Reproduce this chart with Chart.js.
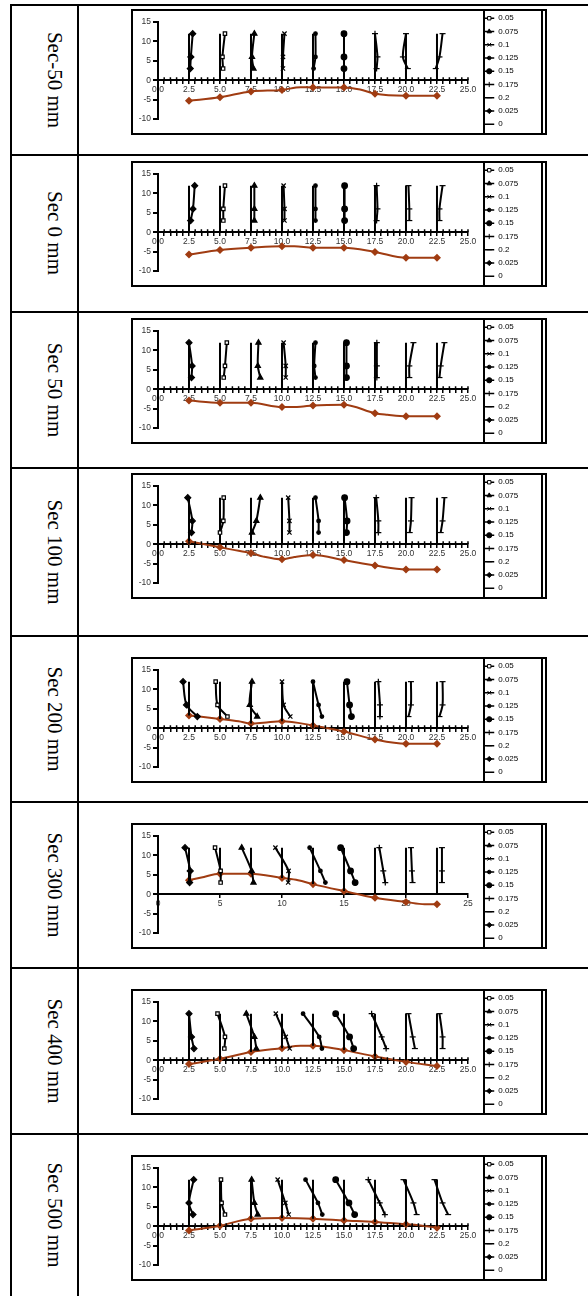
<!DOCTYPE html>
<html lang="en">
<head>
<meta charset="UTF-8">
<title>Velocity profiles by section</title>
<script src="https://cdn.jsdelivr.net/npm/chart.js"></script>
<style>
  body { margin: 0; background: #fff; }
  #page { position: relative; width: 588px; height: 1296px; overflow: hidden; }
  .hline { position: absolute; left: 10px; width: 578px; height: 2px; background: #000; }
  .vline { position: absolute; top: 5px; height: 1291px; width: 2px; background: #000; }
  .sec { position: absolute; left: 54px; font: 21px "Liberation Serif", "Times New Roman", serif; line-height: 1; white-space: nowrap; transform: translate(-50%, -50%) rotate(90deg); }
  .box { position: absolute; left: 131px; width: 416px; height: 126px; }
  .box canvas { position: absolute; left: 0; top: 0; }
  .frame { position: absolute; left: 0; top: 0; width: 412px; height: 122px; border: 2px solid #000; pointer-events: none; }
  .dbl { position: absolute; left: 410px; top: 0; width: 1.5px; height: 126px; background: #000; pointer-events: none; }
</style>
</head>
<body>
<div id="page"></div>
<script>
// sections, stations (m) and measuring depths (cm)
const sections = ['Sec-50 mm', 'Sec 0 mm', 'Sec 50 mm', 'Sec 100 mm', 'Sec 200 mm', 'Sec 300 mm', 'Sec 400 mm', 'Sec 500 mm'];
const stations = [2.5, 5, 7.5, 10, 12.5, 15, 17.5, 20, 22.5];
const depths = [12, 6, 3];
const verticalTop = 12;
const seriesNames = ['0.05', '0.075', '0.1', '0.125', '0.15', '0.175', '0.2', '0.025', '0'];
const seriesStation = [1, 2, 3, 4, 5, 6, 7, 0]; // '0' = the vertical lines
const yTicks = [-10, -5, 0, 5, 10, 15];

// profile x positions at depths 12, 6, 3 for every station
const profM50 = [[2.8, 2.65, 2.6], [5.4, 5.2, 5.25], [7.77, 7.58, 7.7], [10.2, 10.08, 10.08], [12.7, 12.7, 12.55], [15.0, 15.0, 15.0], [17.5, 17.7, 17.63], [20.0, 19.75, 20.15], [22.95, 22.7, 22.4]];
const prof0 = [[2.96, 2.82, 2.63], [5.4, 5.27, 5.27], [7.77, 7.77, 7.77], [10.13, 10.2, 10.2], [12.7, 12.7, 12.7], [15.05, 15.05, 15.05], [17.63, 17.7, 17.63], [20.2, 20.27, 20.27], [22.95, 22.7, 22.7]];
const prof50 = [[2.5, 2.75, 2.7], [5.55, 5.4, 5.3], [8.1, 8.05, 8.25], [10.13, 10.3, 10.3], [12.7, 12.6, 12.7], [15.2, 15.2, 15.2], [17.65, 17.65, 17.65], [20.6, 20.27, 20.27], [23.1, 22.8, 22.7]];
const prof100 = [[2.4, 2.77, 2.7], [5.3, 5.27, 5.0], [8.25, 7.93, 7.58], [10.5, 10.6, 10.6], [12.7, 12.95, 12.95], [15.05, 15.25, 15.2], [17.6, 17.77, 17.77], [20.45, 20.4, 20.3], [23.1, 22.95, 22.8]];
const prof200 = [[2.02, 2.3, 3.17], [4.65, 4.8, 5.6], [7.58, 7.4, 8.0], [10.0, 10.13, 10.67], [12.5, 12.95, 13.22], [15.24, 15.45, 15.6], [17.77, 17.9, 17.9], [20.4, 20.4, 20.2], [22.95, 22.95, 22.7]];
const prof300 = [[2.18, 2.6, 2.55], [4.6, 5.05, 5.05], [6.75, 7.55, 7.7], [9.47, 10.53, 10.5], [12.23, 13.1, 13.5], [14.73, 15.53, 15.9], [17.85, 18.17, 18.33], [20.4, 20.48, 20.53], [22.9, 22.9, 22.9]];
const prof400 = [[2.5, 2.7, 2.9], [4.8, 5.4, 5.35], [7.12, 7.77, 7.93], [9.5, 10.3, 10.62], [11.7, 13.0, 13.22], [14.33, 15.45, 15.78], [17.23, 18.04, 18.4], [20.2, 20.54, 20.72], [22.7, 22.95, 22.95]];
const prof500 = [[2.88, 2.5, 2.82], [5.08, 5.13, 5.4], [7.55, 7.77, 8.04], [9.65, 10.27, 10.54], [11.9, 12.9, 13.25], [14.33, 15.4, 15.86], [16.96, 17.88, 18.3], [19.8, 20.6, 20.86], [22.3, 22.95, 23.4]];

// bed level lines
const bedXM50 = [2.5, 5, 7.5, 10, 11.5, 12.5, 15, 16.3, 17.5, 20, 22.5];
const bedYM50 = [-5.3, -4.4, -2.9, -2.5, -1.8, -1.85, -1.85, -2.4, -3.5, -4.0, -4.0];
const bedX0 = [2.5, 5, 7.5, 10, 11, 12.5, 15, 17.5, 20, 22.5];
const bedY0 = [-5.75, -4.6, -4.0, -3.6, -3.6, -4.0, -4.0, -5.1, -6.6, -6.6];
const bedX50 = [2.5, 5, 7.5, 10, 11.5, 12.5, 15, 17.5, 18.5, 20, 22.5];
const bedY50 = [-2.9, -3.5, -3.5, -4.6, -4.5, -4.2, -4.0, -6.2, -6.6, -7.0, -7.0];
const bedX100 = [2.5, 5, 6, 7.5, 8.5, 10, 11, 12.5, 15, 16.5, 17.5, 20, 22.5];
const bedY100 = [0.77, -0.8, -1.4, -2.3, -3.2, -3.9, -3.3, -2.8, -4.1, -5.0, -5.5, -6.5, -6.5];
const bedX200 = [2.5, 5, 6.5, 7.5, 8.5, 10, 12.5, 15, 17.5, 20, 22.5];
const bedY200 = [3.3, 2.4, 1.8, 1.2, 1.4, 1.8, 0.7, -0.86, -2.9, -4.0, -4.0];
const bedX300 = [2.5, 3.5, 5, 7.5, 10, 11.3, 12.5, 15, 17.5, 20, 21.5, 22.5];
const bedY300 = [3.6, 4.3, 5.3, 5.3, 4.2, 3.6, 2.6, 0.8, -0.9, -2.0, -2.6, -2.6];
const bedX400 = [2.5, 5, 7.5, 10, 11.5, 12.5, 13.5, 15, 17.5, 20, 22.5];
const bedY400 = [-1.0, 0.35, 2.1, 3.1, 3.7, 3.7, 3.4, 2.6, 0.95, -0.43, -1.5];
const bedX500 = [2.5, 5, 7.5, 10, 12.5, 15, 17.5, 20, 21, 22.5];
const bedY500 = [-1.1, 0.1, 1.95, 2.1, 1.95, 1.5, 1.1, 0.5, 0.25, -0.4];

const rowData = [
  [profM50, bedXM50, bedYM50], [prof0, bedX0, bedY0], [prof50, bedX50, bedY50], [prof100, bedX100, bedY100],
  [prof200, bedX200, bedY200], [prof300, bedX300, bedY300], [prof400, bedX400, bedY400], [prof500, bedX500, bedY500]
];

// page layout
const frameTops = [9, 161, 318, 473, 657, 823, 989, 1155];
const labelMids = [80, 233, 390, 552, 719, 885, 1051, 1215];
const dividers = [5, 155, 312, 468, 636, 802, 968, 1134];
const coarseRow = 5;

// marker styles per legend series
const markStyle = ['rect', 'triangle', 'crossRot', 'circle', 'circle', 'cross', 'line', 'rectRot'];
const markSize = [2.4, 3, 3, 1.8, 2.8, 3, 3, 3];
const markFill = ['#fff', '#000', '#000', '#000', '#000', '#000', '#000', '#000'];
const bedColor = '#a03c12';

Chart.defaults.font.family = '"Liberation Sans", Arial, sans-serif';
Chart.defaults.font.size = 8.5;
Chart.defaults.color = '#333';

const rowDeco = {
  id: 'rowDeco',
  afterDraw(chart, args, opts) {
    const ctx = chart.ctx, lg = chart.legend, xs = chart.scales.x, ys = chart.scales.y;
    ctx.save();
    if (opts.cross) {
      const y0 = ys.getPixelForValue(0);
      ctx.strokeStyle = '#000';
      ctx.lineWidth = 1.5;
      ctx.beginPath();
      xs.ticks.forEach((t, i) => {
        const px = xs.getPixelForTick(i);
        ctx.moveTo(px, y0 - 3);
        ctx.lineTo(px, y0);
      });
      ctx.stroke();
    }
    const pad = lg.options.labels.padding;
    const bw = lg.options.labels.boxWidth;
    ctx.fillStyle = '#000';
    ctx.fillRect(Math.round(lg.left + pad) - 1, 0, 2, chart.height);
    lg.legendItems.forEach((it, i) => {
      const ds = chart.data.datasets[it.datasetIndex];
      const hb = lg.legendHitBoxes[i];
      if (!(ds.pointRadius > 0) || !Chart.helpers || !Chart.helpers.drawPoint) return;
      ctx.fillStyle = ds.pointBackgroundColor;
      ctx.strokeStyle = '#000';
      ctx.lineWidth = 1;
      Chart.helpers.drawPoint(ctx, {pointStyle: ds.pointStyle, radius: Math.min(ds.pointRadius, 2.6), rotation: 0, borderWidth: 1},
        hb.left + bw / 2, hb.top + hb.height / 2);
    });
    ctx.restore();
  }
};

function profileSet(label, xs, k) {
  return {
    label: label,
    data: xs.map((x, j) => ({x: x, y: depths[j]})),
    showLine: true, tension: 0.3,
    borderColor: '#000', backgroundColor: '#000', borderWidth: 2,
    pointStyle: markStyle[k], pointRadius: markSize[k],
    pointBackgroundColor: markFill[k], pointBorderColor: '#000', pointBorderWidth: 1.2
  };
}

function verticalSet(bx, by) {
  const pts = [];
  stations.forEach(s => {
    const bottom = Math.max(0, by[bx.indexOf(s)]);
    pts.push({x: s, y: verticalTop}, {x: s, y: bottom}, {x: s, y: null});
  });
  return {label: '0', data: pts, showLine: true, spanGaps: false, borderColor: '#000', backgroundColor: '#000', borderWidth: 2, pointRadius: 0};
}

const page = document.getElementById('page');
dividers.forEach(y => {
  const d = document.createElement('div');
  d.className = 'hline';
  d.style.top = (y - 1) + 'px';
  page.appendChild(d);
});
[10, 77].forEach(x => {
  const d = document.createElement('div');
  d.className = 'vline';
  d.style.left = x + 'px';
  page.appendChild(d);
});

sections.forEach((name, r) => {
  const lab = document.createElement('div');
  lab.className = 'sec';
  lab.style.top = labelMids[r] + 'px';
  lab.textContent = name;
  page.appendChild(lab);

  const box = document.createElement('div');
  box.className = 'box';
  box.style.top = frameTops[r] + 'px';
  const cv = document.createElement('canvas');
  cv.width = 416;
  cv.height = 126;
  box.appendChild(cv);
  const fr = document.createElement('div');
  fr.className = 'frame';
  box.appendChild(fr);
  const dbl = document.createElement('div');
  dbl.className = 'dbl';
  box.appendChild(dbl);
  page.appendChild(box);

  const [prof, bx, by] = rowData[r];
  const coarse = r === coarseRow;
  const datasets = [];
  seriesNames.forEach((s, k) => {
    if (s === '0') datasets.push(verticalSet(bx, by));
    else datasets.push(profileSet(s, prof[seriesStation[k]], k));
  });
  datasets.push(profileSet('0.225', prof[8], 6));
  datasets.push({
    label: 'bed', data: bx.map((x, i) => ({x: x, y: by[i]})),
    showLine: true, cubicInterpolationMode: 'monotone', borderColor: bedColor, backgroundColor: bedColor, borderWidth: 2,
    pointStyle: 'rectRot', pointRadius: bx.map(x => stations.includes(x) ? 2.6 : 0),
    pointBackgroundColor: bedColor, pointBorderColor: bedColor
  });

  new Chart(cv, {
    type: 'scatter',
    data: {datasets: datasets},
    options: {
      responsive: false, animation: false, devicePixelRatio: 1, events: [],
      layout: {padding: {right: 18.75}},
      plugins: {
        tooltip: {enabled: false},
        rowDeco: {cross: !coarse},
        legend: {
          position: 'right', align: 'start',
          labels: {
            boxWidth: 10, boxHeight: 1.5, padding: 5.25, color: '#222', font: {size: 8},
            generateLabels: ch => ch.data.datasets
              .map((ds, i) => ({text: ds.label, fillStyle: '#000', strokeStyle: '#000', lineWidth: 0, hidden: false, datasetIndex: i}))
              .filter(it => seriesNames.includes(it.text))
          }
        }
      },
      scales: {
        x: {
          type: 'linear', position: {y: 0}, min: 0, max: 25,
          grid: {drawOnChartArea: false, drawTicks: true, tickLength: 3, color: '#000', lineWidth: 1.5},
          border: {color: '#000', width: 2},
          ticks: {
            stepSize: coarse ? 5 : 0.5, autoSkip: false, maxRotation: 0, minRotation: 0, padding: 1,
            callback: v => coarse ? String(v) : (Math.abs(v / 2.5 - Math.round(v / 2.5)) < 1e-6 ? v.toFixed(1) : '')
          }
        },
        y: {
          type: 'linear', position: 'left', min: yTicks[0], max: yTicks[yTicks.length - 1],
          grid: {drawOnChartArea: false, drawTicks: true, tickLength: 5, color: '#000', lineWidth: 2},
          border: {color: '#000', width: 2},
          ticks: {stepSize: 5, padding: 2},
          afterFit: s => { s.width = 27; s.paddingTop = 13; s.paddingBottom = 16; }
        },
        gap: {
          axis: 'y', type: 'linear', position: 'right', display: true,
          grid: {display: false, drawTicks: false}, border: {display: false}, ticks: {display: false},
          afterFit: s => { s.width = 11; }
        }
      }
    },
    plugins: [rowDeco]
  });
});
</script>
</body>
</html>
